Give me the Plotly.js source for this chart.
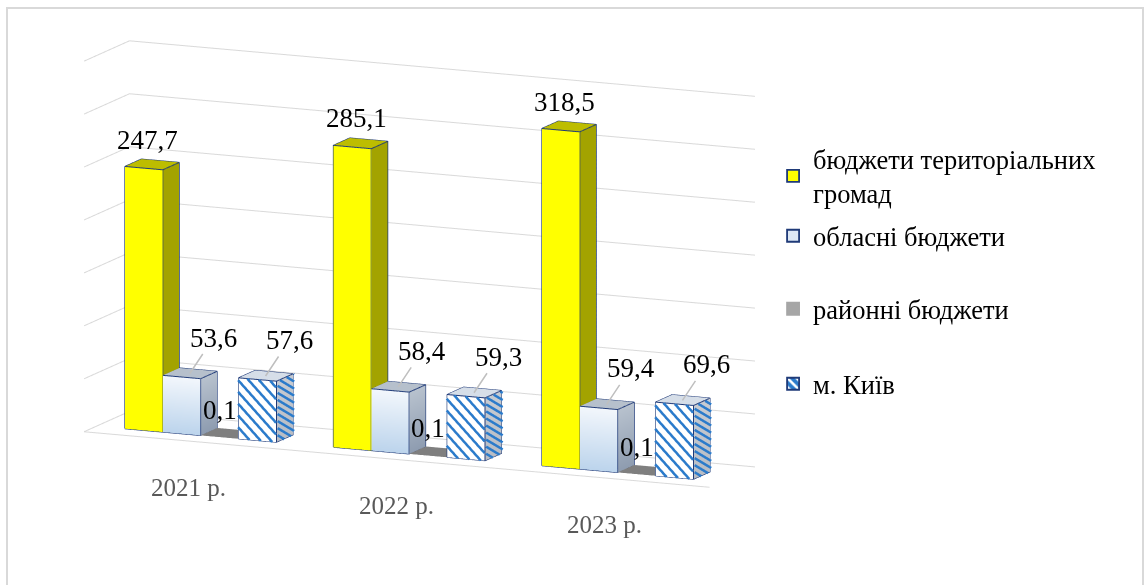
<!DOCTYPE html>
<html><head><meta charset="utf-8">
<script src="https://cdn.plot.ly/plotly-3.0.1.min.js"></script>
<style>html,body{margin:0;padding:0;background:#fff}#chart{width:1147px;height:585px}</style>
</head><body><div id="chart"></div>
<script>
// ---------- data ----------
const categories = ['2021 р.', '2022 р.', '2023 р.'];
const seriesNames = ['бюджети територіальних<br>громад', 'обласні бюджети', 'районні бюджети', 'м. Київ'];
const hromady = [247.7, 285.1, 318.5];
const oblasni = [53.6, 58.4, 59.4];
const raionni = [0.1, 0.1, 0.1];
const kyiv = [57.6, 59.3, 69.6];
const gridValues = [0, 50, 100, 150, 200, 250, 300, 350];

// ---------- geometry (style) ----------
const BAR_W = 1, GAP = 1.5, NSER = 4, CAT = NSER * BAR_W + GAP;
const XMAX = CAT * categories.length;
const DEPTH = 2.2, BY0 = 0.6, BY1 = 1.4, ZMAX = 350;
const FONT = 'Liberation Serif, Times New Roman, serif';
const fmt = v => v.toFixed(1).replace('.', ',');

const series = [
  {name: seriesNames[0], vals: hromady, front: ['#FFFF00', '#FFFF00'], side: ['#A3A300', '#A3A300'], top: '#BDBD00', edge: true},
  {name: seriesNames[1], vals: oblasni, front: ['#F3F7FC', '#BCD4EC'], side: ['#B8C2CE', '#8E9CB0'], top: '#B6C0CC', edge: true},
  {name: seriesNames[2], vals: raionni, front: ['#808080', '#808080'], side: ['#808080', '#808080'], top: '#7F7F7F', edge: false},
  {name: seriesNames[3], vals: kyiv, front: ['#FFFFFF', '#FFFFFF'], side: ['#C8CCD2', '#B8BCC4'], top: '#D6DEE8', edge: true, stripes: true}
];

function barX(ci, si) { const x0 = ci * CAT + GAP / 2 + si * BAR_W; return [x0, x0 + BAR_W]; }

const traces = [];
const edgeX = [], edgeY = [], edgeZ = [];
const strX = [], strY = [], strZ = [];

series.forEach((s, si) => {
  const X = [], Y = [], Z = [], I = [], J = [], K = [], VC = [];
  function quad(pts, cols) {
    const b = X.length;
    pts.forEach((p, k) => { X.push(p[0]); Y.push(p[1]); Z.push(p[2]); VC.push(cols[k]); });
    I.push(b, b); J.push(b + 1, b + 2); K.push(b + 2, b + 3);
  }
  s.vals.forEach((v, ci) => {
    const [x0, x1] = barX(ci, si);
    const h = v;
    quad([[x0, BY0, 0], [x1, BY0, 0], [x1, BY0, h], [x0, BY0, h]], [s.front[1], s.front[1], s.front[0], s.front[0]]);
    quad([[x1, BY0, 0], [x1, BY1, 0], [x1, BY1, h], [x1, BY0, h]], [s.side[1], s.side[1], s.side[0], s.side[0]]);
    quad([[x0, BY0, h], [x1, BY0, h], [x1, BY1, h], [x0, BY1, h]], [s.top, s.top, s.top, s.top]);
    if (s.edge) {
      const segs = [
        [[x0, BY0, 0], [x1, BY0, 0], [x1, BY0, h], [x0, BY0, h], [x0, BY0, 0]],
        [[x1, BY0, 0], [x1, BY1, 0], [x1, BY1, h], [x1, BY0, h]],
        [[x0, BY0, h], [x0, BY1, h], [x1, BY1, h]]
      ];
      segs.forEach(seg => { seg.forEach(p => { edgeX.push(p[0]); edgeY.push(p[1]); edgeZ.push(p[2]); }); edgeX.push(null); edgeY.push(null); edgeZ.push(null); });
    }
    if (s.stripes) {
      const SX = 40, SZ = 1.08, P = 12;
      const W = (x1 - x0) * SX, H = h * SZ;
      for (let t = -H; t < W; t += P) {
        const u0 = Math.max(0, t), u1 = Math.min(W, H + t);
        if (u1 <= u0) continue;
        const e = 0.02;
        strX.push(x0 + u0 / SX, x0 + u1 / SX, null);
        strY.push(BY0 - e, BY0 - e, null);
        strZ.push(h - (u0 - t) / SZ, h - (u1 - t) / SZ, null);
      }
      const SY = 22, WD = (BY1 - BY0) * SY;
      for (let t = -H; t < WD; t += P * 0.6) {
        const u0 = Math.max(0, t), u1 = Math.min(WD, H + t);
        if (u1 <= u0) continue;
        const e = 0.03;
        strX.push(x1 + e, x1 + e, null);
        strY.push(BY0 + u0 / SY, BY0 + u1 / SY, null);
        strZ.push(h - (u0 - t) / SZ, h - (u1 - t) / SZ, null);
      }
    }
  });
  traces.push({type: 'mesh3d', x: X, y: Y, z: Z, i: I, j: J, k: K, vertexcolor: VC,
    flatshading: true, lighting: {ambient: 1, diffuse: 0, specular: 0, roughness: 1, fresnel: 0},
    hoverinfo: 'skip', showscale: false, showlegend: false});
});

const gX = [], gY = [], gZ = [];
gridValues.forEach(g => {
  gX.push(0, 0, XMAX, null); gY.push(0, DEPTH, DEPTH, null); gZ.push(g, g, g, null);
});
gX.push(0, XMAX, null); gY.push(0, 0, null); gZ.push(0, 0, null);
traces.unshift({type: 'scatter3d', mode: 'lines', x: gX, y: gY, z: gZ, line: {color: '#D9D9D9', width: 2}, hoverinfo: 'skip', showlegend: false});
traces.push({type: 'scatter3d', mode: 'lines', x: strX, y: strY, z: strZ, line: {color: '#2B7BCB', width: 5}, hoverinfo: 'skip', showlegend: false});
traces.push({type: 'scatter3d', mode: 'lines', x: edgeX, y: edgeY, z: edgeZ, line: {color: '#1F3A78', width: 2}, hoverinfo: 'skip', showlegend: false});

const legendStyle = [
  {color: '#FFFF00', line: '#1F3A78'},
  {color: '#DDE8F5', line: '#1F3A78'},
  {color: '#A6A6A6', line: '#A6A6A6'},
  {color: '#2B7BCB', line: '#1F3A78', pattern: {shape: '\\', fgcolor: '#FFFFFF', bgcolor: '#2B7BCB', size: 8, solidity: 0.4}}
];
const legendY = [135, 212, 285, 360];
series.forEach((s, si) => {
  const m = {color: legendStyle[si].color, line: {color: legendStyle[si].line, width: 1.8}};
  if (legendStyle[si].pattern) m.pattern = legendStyle[si].pattern;
  traces.push({type: 'bar', x: [0], y: [null], name: s.name, marker: m, showlegend: true,
    legend: si === 0 ? 'legend' : 'legend' + (si + 1), hoverinfo: 'skip'});
});

const ann = [];
series.forEach((s, si) => {
  s.vals.forEach((v, ci) => {
    const [x0, x1] = barX(ci, si);
    const xc = (x0 + x1) / 2, yc = (BY0 + BY1) / 2;
    const base = {x: xc, y: yc, z: v, text: fmt(v), font: {family: FONT, size: 27, color: '#000'}};
    if (si === 0) ann.push(Object.assign(base, {showarrow: false, yanchor: 'bottom', yshift: 8, xshift: -4}));
    else if (si === 2) ann.push(Object.assign(base, {showarrow: false, xshift: -8, yshift: 24}));
    else ann.push(Object.assign(base, {showarrow: true, arrowhead: 0, arrowwidth: 1.5, arrowcolor: '#BFBFBF', ax: 24, ay: -36, standoff: 0}));
  });
});
categories.forEach((c, ci) => {
  ann.push({x: ci * CAT + CAT / 2, y: 0, z: 0, text: c, showarrow: false, yshift: -46,
    font: {family: FONT, size: 25, color: '#595959'}});
});

const noAxis = {visible: false, showgrid: false, zeroline: false, showline: false, showticklabels: false, showbackground: false, showspikes: false, title: {text: ''}};
const legendBase = {x: 0.674, xanchor: 'left', yanchor: 'top', font: {family: FONT, size: 26.5, color: '#000'}, bgcolor: 'rgba(0,0,0,0)', itemclick: false, itemdoubleclick: false};
const th = 24 * Math.PI / 180, ph = 10 * Math.PI / 180, R = 3;
const layout = {
  width: 1147, height: 585, margin: {l: 0, r: 0, t: 0, b: 0},
  paper_bgcolor: '#FFFFFF', plot_bgcolor: 'rgba(0,0,0,0)', hovermode: false,
  xaxis: {visible: false, domain: [0.999, 1]}, yaxis: {visible: false, domain: [0.999, 1]},
  scene: {
    domain: {x: [0.033, 0.698], y: [0.02, 1.0]},
    xaxis: Object.assign({range: [0, XMAX]}, noAxis),
    yaxis: Object.assign({range: [0, DEPTH]}, noAxis),
    zaxis: Object.assign({range: [0, ZMAX]}, noAxis),
    aspectmode: 'manual', aspectratio: {x: 2.39, y: 0.39, z: 1.32},
    camera: {eye: {x: R * Math.sin(th) * Math.cos(ph), y: -R * Math.cos(th) * Math.cos(ph), z: R * Math.sin(ph)},
      center: {x: 0, y: 0, z: -0.08}, up: {x: 0, y: 0, z: 1}, projection: {type: 'orthographic'}},
    annotations: ann
  },
  legend: Object.assign({y: 1 - legendY[0] / 585}, legendBase),
  legend2: Object.assign({y: 1 - legendY[1] / 585}, legendBase),
  legend3: Object.assign({y: 1 - legendY[2] / 585}, legendBase),
  legend4: Object.assign({y: 1 - legendY[3] / 585}, legendBase),
  shapes: [{type: 'rect', xref: 'paper', yref: 'paper', x0: 7 / 1147, x1: 1143 / 1147, y0: -0.02, y1: 1 - 8 / 585, line: {color: '#D9D9D9', width: 2}, fillcolor: 'rgba(0,0,0,0)'}]
};
Plotly.newPlot('chart', traces, layout, {displayModeBar: false});
</script></body></html>
